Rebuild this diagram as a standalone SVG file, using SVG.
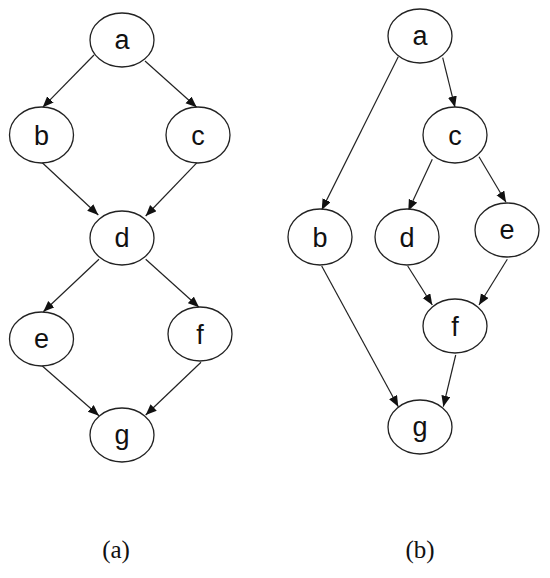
<svg xmlns="http://www.w3.org/2000/svg" width="550" height="578" viewBox="0 0 550 578">
<style>
.n ellipse{fill:#fff;stroke:#222;stroke-width:1.3}
.n text{font-family:"Liberation Sans",Arial,sans-serif;font-size:27px;fill:#111;text-anchor:middle}
.e line{stroke:#222;stroke-width:1.2;marker-end:url(#ah)}
.cap{font-family:"Liberation Serif","Times New Roman",serif;font-size:25px;fill:#111;text-anchor:middle}
</style>
<defs>
<marker id="ah" markerUnits="userSpaceOnUse" markerWidth="12" markerHeight="10" refX="11" refY="4.5" orient="auto">
<path d="M0,0 L11,4.5 L0,9 z" fill="#111"/>
</marker>
</defs>
<rect width="550" height="578" fill="#fff"/>
<g id="edges" class="e">
<line x1="94" y1="55" x2="42.7" y2="107.3"/>
<line x1="145" y1="61" x2="196.7" y2="107.3"/>
<line x1="42.3" y1="162.7" x2="98.3" y2="215"/>
<line x1="197" y1="162.7" x2="145.7" y2="216"/>
<line x1="99" y1="259.3" x2="43.3" y2="311.7"/>
<line x1="145.7" y1="259.3" x2="199" y2="307.3"/>
<line x1="42.3" y1="366" x2="99" y2="415.7"/>
<line x1="201" y1="362.3" x2="145.7" y2="415"/>
<line x1="398.3" y1="56.7" x2="321.7" y2="210"/>
<line x1="442.7" y1="57.7" x2="455" y2="107.3"/>
<line x1="432.3" y1="159.3" x2="408.3" y2="210.7"/>
<line x1="479" y1="156.7" x2="506" y2="202.3"/>
<line x1="321.7" y1="266" x2="398.3" y2="406.7"/>
<line x1="407.7" y1="266" x2="432.3" y2="305"/>
<line x1="507.3" y1="259.3" x2="479" y2="305"/>
<line x1="455.7" y1="355" x2="443.3" y2="406.7"/>
</g>
<g id="a1" class="n"><ellipse cx="122" cy="40" rx="32" ry="27"/><text x="122" y="49">a</text></g>
<g id="b1" class="n"><ellipse cx="41.5" cy="135" rx="32" ry="28"/><text x="41.5" y="145">b</text></g>
<g id="c1" class="n"><ellipse cx="198" cy="135" rx="32" ry="28"/><text x="198" y="145">c</text></g>
<g id="d1" class="n"><ellipse cx="122" cy="238" rx="32" ry="27"/><text x="122" y="247">d</text></g>
<g id="e1" class="n"><ellipse cx="41.5" cy="339" rx="32" ry="27"/><text x="41.5" y="348">e</text></g>
<g id="f1" class="n"><ellipse cx="200" cy="334" rx="32" ry="27"/><text x="200" y="344">f</text></g>
<g id="g1" class="n"><ellipse cx="122" cy="435" rx="32" ry="27"/><text x="122" y="444">g</text></g>
<g id="a2" class="n"><ellipse cx="420" cy="36" rx="32" ry="27"/><text x="420" y="45">a</text></g>
<g id="c2" class="n"><ellipse cx="455" cy="135" rx="32" ry="28"/><text x="455" y="145">c</text></g>
<g id="b2" class="n"><ellipse cx="320" cy="237" rx="32" ry="28"/><text x="320" y="247">b</text></g>
<g id="d2" class="n"><ellipse cx="407" cy="237" rx="32" ry="28"/><text x="407" y="247">d</text></g>
<g id="e2" class="n"><ellipse cx="507" cy="230" rx="32" ry="27"/><text x="507" y="239">e</text></g>
<g id="f2" class="n"><ellipse cx="455" cy="326" rx="32" ry="27"/><text x="455" y="336">f</text></g>
<g id="g2" class="n"><ellipse cx="420" cy="427" rx="32" ry="27"/><text x="420" y="436">g</text></g>
<text class="cap" x="116" y="558">(a)</text>
<text class="cap" x="420" y="558">(b)</text>
</svg>
